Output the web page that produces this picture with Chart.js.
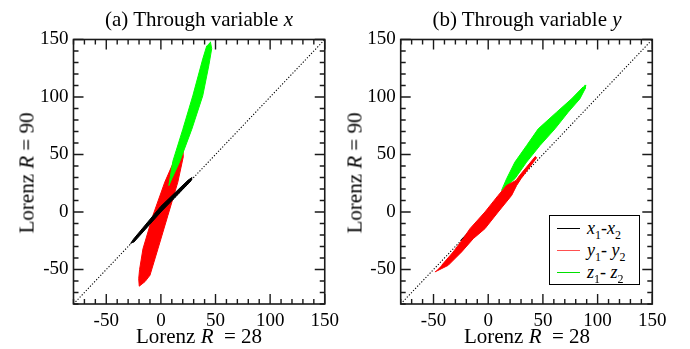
<!DOCTYPE html>
<html><head><meta charset="utf-8">
<script src="https://cdn.jsdelivr.net/npm/chart.js@4/dist/chart.umd.min.js"></script>
<style>
html,body{margin:0;padding:0;background:#fff;}
#wrap{position:relative;width:690px;height:349px;overflow:hidden;font-family:'Liberation Serif','Times New Roman',serif;color:#000;}
canvas{position:absolute;top:0;}
.t{position:absolute;white-space:nowrap;font-size:21px;line-height:1;transform:translate(-50%,-50%);}
.rot{transform:translate(-50%,-50%) rotate(-90deg);}
#legend{position:absolute;left:549px;top:215px;width:89px;height:68px;border:1.3px solid #000;background:#fff;}
.sw{position:absolute;left:7px;width:23px;height:0;border-top:1.5px solid;}
.lt{position:absolute;left:37px;font-size:18px;font-style:italic;line-height:1;white-space:nowrap;}
.lt sub{font-style:normal;font-size:12px;vertical-align:baseline;position:relative;top:5px;}
</style></head>
<body>
<div id="wrap">
  <canvas id="cA" width="345" height="349" style="left:0"></canvas>
  <canvas id="cB" width="345" height="349" style="left:345px"></canvas>
  <div class="t" style="left:199px;top:19px">(a) Through variable <i>x</i></div>
  <div class="t" style="left:527px;top:19px">(b) Through variable <i>y</i></div>
  <div class="t" style="left:199px;top:336px">Lorenz <i>R</i> &nbsp;= 28</div>
  <div class="t" style="left:527px;top:336px">Lorenz <i>R</i> &nbsp;= 28</div>
  <div class="t rot" style="left:27px;top:173px">Lorenz <i>R</i> = 90</div>
  <div class="t rot" style="left:355px;top:173px">Lorenz <i>R</i> = 90</div>
  <div id="legend">
    <div class="sw" style="top:12px;border-color:#000"></div>
    <div class="lt" style="top:3px">x<sub>1</sub>-x<sub>2</sub></div>
    <div class="sw" style="top:34px;border-color:#ff5050"></div>
    <div class="lt" style="top:25px">y<sub>1</sub>- y<sub>2</sub></div>
    <div class="sw" style="top:56px;border-color:#00e000"></div>
    <div class="lt" style="top:47px">z<sub>1</sub>- z<sub>2</sub></div>
  </div>
</div>
<script>
// ---- data ----
const tickValues = [-50, 0, 50, 100, 150];
const axisMin = -80, axisMax = 150;
const diagonal = [[-80,-80],[150,150]];

// panel (a): coupling through x
const a_x1x2 = [[-27.8,-27.5],[-25,-23.5],[0,5],[25,27.8],[28.5,30],[27.5,27],[0,0],[-25,-26.5]];
const a_y1y2 = [[20.1,56.7],[20.5,48],[15.5,26],[6.4,-3],[-2.7,-32],[-10,-55],[-14.5,-60.5],[-19.8,-64.5],[-20.3,-58],[-19.5,-50],[-16.4,-32],[-7.3,-3],[3.6,26],[12.8,46],[17.3,55]];
const a_z1z2 = [[45.3,148.1],[46.5,142],[44,128],[38.3,101],[28.3,72],[17.3,44],[10,29],[7.3,23],[8.5,30],[10.9,44],[20.1,72],[29.2,101],[38.3,133],[42,144.5]];

// panel (b): coupling through y
const b_x1x2 = [[-25,-25],[0,0],[22,22]];
const b_y1y2 = [[-48.7,-52.1],[-36.6,-46.4],[-24.3,-34.7],[-13.7,-23.2],[-3,-14.5],[9.1,0],[21.4,14.4],[26,23.1],[30,29],[44.3,47.2],[43,48.2],[28.5,31.5],[25.5,27.5],[16.8,23.1],[9.1,14.4],[-3,0],[-16.7,-14.5],[-22.9,-23.2],[-32,-34.7],[-42.6,-46.4]];
const b_z1z2 = [[89.3,110.5],[88.5,107],[83.8,98.4],[73.1,86.8],[61,72.3],[47.3,57.8],[35.1,43.4],[24.4,28.9],[12.2,18.8],[16.8,28.9],[24.4,43.4],[35.1,57.8],[45.7,72.3],[62.5,86.8],[76.2,98.4],[87,109]];

const toXY = arr => arr.map(p => ({x: p[0], y: p[1]}));

function blob(label, pts, color, order) {
  return {label, data: toXY(pts), showLine: true, fill: 'shape', backgroundColor: color,
    borderColor: color, borderWidth: 1, pointRadius: 0, tension: 0, order};
}
function diag() {
  return {label: 'diag', data: toXY(diagonal), showLine: true, fill: false, borderColor: '#000',
    borderWidth: 1.1, borderDash: [1.2, 1.8], pointRadius: 0, order: 20};
}

const frameTicks = {
  id: 'frameTicks',
  afterDraw(chart) {
    const {ctx, chartArea: a, scales} = chart;
    const xs = scales.x, ys = scales.y;
    ctx.save();
    ctx.strokeStyle = '#1a1a1a';
    ctx.lineWidth = 1.4;
    ctx.beginPath();
    for (let v = -80; v <= 150; v += 10) {
      const len = (v % 50 === 0) ? 10 : 5;
      const px = xs.getPixelForValue(v);
      ctx.moveTo(px, a.bottom); ctx.lineTo(px, a.bottom - len);
      ctx.moveTo(px, a.top); ctx.lineTo(px, a.top + len);
      const py = ys.getPixelForValue(v);
      ctx.moveTo(a.left, py); ctx.lineTo(a.left + len, py);
      ctx.moveTo(a.right, py); ctx.lineTo(a.right - len, py);
    }
    ctx.stroke();
    ctx.lineWidth = 1.6;
    ctx.strokeRect(a.left, a.top, a.right - a.left, a.bottom - a.top);
    ctx.restore();
  }
};

const FAMILY = "'Liberation Serif', 'Times New Roman', serif";
Chart.defaults.font.family = FAMILY;

function makeChart(id, datasets, yWidth, padRight) {
  const font = {family: FAMILY, size: 19};
  return new Chart(document.getElementById(id), {
    type: 'scatter',
    data: {datasets},
    options: {
      responsive: false, animation: false, devicePixelRatio: 1,
      layout: {padding: {top: 39.5, right: padRight, left: 0, bottom: 0}},
      plugins: {legend: {display: false}, tooltip: {enabled: false}, title: {display: false}},
      scales: {
        x: {type: 'linear', min: axisMin, max: axisMax,
          grid: {display: false, drawTicks: false}, border: {display: false},
          afterBuildTicks: s => { s.ticks = tickValues.map(v => ({value: v})); },
          afterFit: s => { s.height = 45; },
          ticks: {font, color: '#000', padding: 6, maxRotation: 0, autoSkip: false}},
        y: {type: 'linear', min: axisMin, max: axisMax,
          grid: {display: false, drawTicks: false}, border: {display: false},
          afterBuildTicks: s => { s.ticks = tickValues.map(v => ({value: v})); },
          afterFit: s => { s.width = yWidth; },
          ticks: {font, color: '#000', padding: 5, autoSkip: false}}
      }
    },
    plugins: [frameTicks]
  });
}

function build() {
  makeChart('cA', [
    diag(),
    blob('y1-y2', a_y1y2, '#ff0000', 12),
    blob('z1-z2', a_z1z2, '#00ff00', 11),
    blob('x1-x2', a_x1x2, '#000000', 10)
  ], 73.5, 20);

  makeChart('cB', [
    diag(),
    {label: 'x1-x2', data: toXY(b_x1x2), showLine: true, fill: false, borderColor: '#000', borderWidth: 1.5, pointRadius: 0, order: 13},
    blob('z1-z2', b_z1z2, '#00ff00', 12),
    blob('y1-y2', b_y1y2, '#ff0000', 11)
  ], 55.7, 37.7);
}

if (document.fonts && document.fonts.load) {
  document.fonts.load("19px 'Liberation Serif'").then(build, build);
} else {
  build();
}
</script>
</body></html>
